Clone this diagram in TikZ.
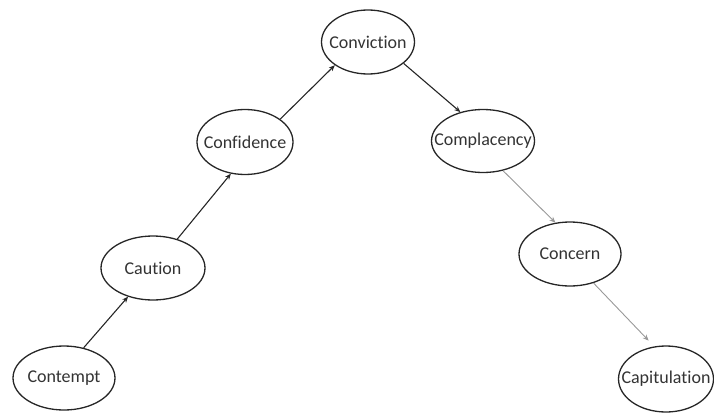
\documentclass[tikz,border=0pt]{standalone}
\usepackage{fontspec}
\setmainfont{Carlito}[Ligatures=NoCommon]
\usetikzlibrary{shapes.geometric, arrows.meta}

\begin{document}
\begin{tikzpicture}[x=1pt, y=-1pt,
    stage/.style={ellipse, draw=black!85, line width=1.3pt, inner sep=0pt, text=black!80, font=\fontsize{18}{21}\selectfont},
    dark/.style={draw=black!85, line width=1.1pt, -{Stealth[length=6pt,width=5pt]}},
    pale/.style={draw=black!40, line width=0.9pt, -{Stealth[length=6pt,width=5pt,fill=black!85]}}]
    \useasboundingbox (0,0) rectangle (714,412);
    \node[stage, minimum width=102pt, minimum height=64pt] (Contempt) at (64, 378) {\makebox[0pt]{Contempt}};
    \node[stage, minimum width=104pt, minimum height=64pt] (Caution) at (153, 268) {\makebox[0pt]{Caution}};
    \node[stage, minimum width=96pt, minimum height=65pt] (Confidence) at (245, 142) {\makebox[0pt]{Confidence}};
    \node[stage, minimum width=93pt, minimum height=64pt] (Conviction) at (368, 42) {\makebox[0pt]{Conviction}};
    \node[stage, minimum width=103pt, minimum height=63pt] (Complacency) at (483, 141) {\makebox[0pt]{Complacency}};
    \node[stage, minimum width=102pt, minimum height=64pt] (Concern) at (570, 254) {\makebox[0pt]{Concern}};
    \node[stage, minimum width=95pt, minimum height=66pt] (Capitulation) at (666, 379) {\makebox[0pt]{Capitulation}};
    \draw[dark] (Contempt.57) -- (Caution.229);
    \draw[dark] (Caution.50) -- (Confidence.246);
    \draw[dark] (Confidence.33) -- (Conviction.215);
    \draw[dark] (Conviction.329) -- (Complacency.128);
    \draw[pale] (Complacency.304) -- (Concern.115);
    \draw[pale, shorten >=8pt] (Concern.309) -- (Capitulation.110);
\end{tikzpicture}
\end{document}
